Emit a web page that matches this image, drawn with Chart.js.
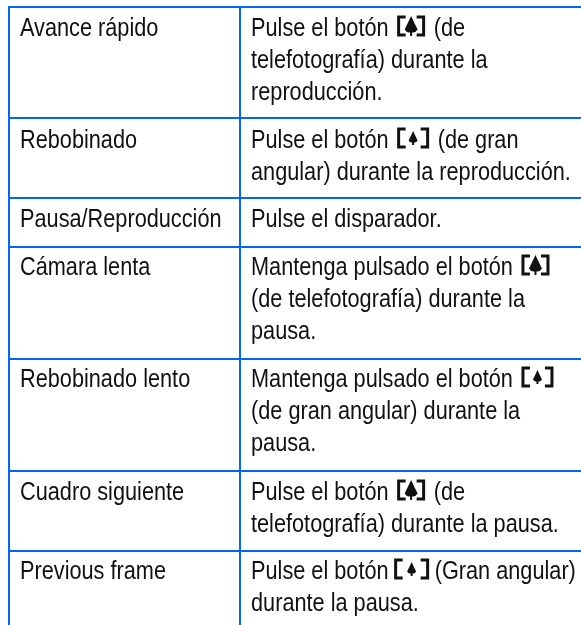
<!DOCTYPE html>
<html>
<head>
<meta charset="utf-8">
<script src="https://cdn.jsdelivr.net/npm/chart.js@4"></script>
<style>
  html, body { margin: 0; padding: 0; background: #fff; }
  #wrap { position: relative; width: 581px; height: 625px; }
</style>
</head>
<body>
<div id="wrap"><canvas id="tableChart"></canvas></div>
<script>
// rows of the table, {T} = tele button icon, {W} = wide button icon, {N} = wide icon set tighter
const rowNames = [
  "Avance rápido", "Rebobinado", "Pausa/Reproducción", "Cámara lenta",
  "Rebobinado lento", "Cuadro siguiente", "Previous frame"
];
const rowActions = [
  ["Pulse el botón {T} (de", "telefotografía) durante la", "reproducción."],
  ["Pulse el botón {W} (de gran", "angular) durante la reproducción."],
  ["Pulse el disparador."],
  ["Mantenga pulsado el botón {T}", "(de telefotografía) durante la", "pausa."],
  ["Mantenga pulsado el botón {W}", "(de gran angular) durante la", "pausa."],
  ["Pulse el botón {T} (de", "telefotografía) durante la pausa."],
  ["Pulse el botón {N} (Gran angular)", "durante la pausa."]
];
const rowEdges = [7, 118, 198, 247, 359, 471, 551];
const rowBaselines = [36, 148, 227, 275, 387, 500, 579];
const colEdges = [9, 240];
const textCols = [20, 251];
const tableRight = 581;
const tableBottom = 625;

const BLUE = "#0066ff";
const INK = "#111";
const FONT = '26px "Liberation Sans", Arial, sans-serif';
const SQUEEZE = 0.835; // reference type is a narrow cut
const LINE_STEP = 32;

function rule(x1, y1, x2, y2) {
  return {
    data: [{ x: x1, y: y1 }, { x: x2, y: y2 }],
    showLine: true,
    borderColor: BLUE,
    borderWidth: 2,
    pointRadius: 0
  };
}

const rules = [];
rowEdges.forEach(y => rules.push(rule(colEdges[0] - 1, y, tableRight, y)));
colEdges.forEach(x => rules.push(rule(x, rowEdges[0], x, tableBottom)));

function drawIcon(c, x, base, kind) {
  const wide = kind !== "{T}";
  const box = kind === "{W}" ? 37 : kind === "{N}" ? 34 : 33;
  const left = x + (kind === "{N}" ? 1 : 4), right = x + box - (kind === "{N}" ? 1 : 4);
  const top = base - 19, bot = base - 1;
  c.save();
  c.strokeStyle = INK;
  c.fillStyle = INK;
  c.lineWidth = 3;
  c.beginPath();
  c.moveTo(left + 7, top); c.lineTo(left, top); c.lineTo(left, bot); c.lineTo(left + 7, bot);
  c.moveTo(right - 7, top); c.lineTo(right, top); c.lineTo(right, bot); c.lineTo(right - 7, bot);
  c.stroke();
  const cx = (left + right) / 2;
  const h = wide ? 14 : 20, hw = wide ? 4.5 : 6.5;
  const t = wide ? base - 17 : base - 20;
  c.beginPath();
  c.moveTo(cx, t);
  c.quadraticCurveTo(cx + hw * 0.5, t + h * 0.35, cx + hw, t + h * 0.68);
  c.quadraticCurveTo(cx + hw * 0.7, t + h * 0.85, cx + 1, t + h * 0.82);
  c.lineTo(cx + 1, t + h);
  c.lineTo(cx - 1, t + h);
  c.lineTo(cx - 1, t + h * 0.82);
  c.quadraticCurveTo(cx - hw * 0.7, t + h * 0.85, cx - hw, t + h * 0.68);
  c.quadraticCurveTo(cx - hw * 0.5, t + h * 0.35, cx, t);
  c.fill();
  c.restore();
  return box;
}

function drawText(c, text, x, y) {
  c.save();
  c.translate(x, y);
  c.scale(SQUEEZE, 1);
  c.fillText(text, 0, 0);
  c.restore();
  return c.measureText(text).width * SQUEEZE;
}

function drawLine(c, text, x, y) {
  text.split(/(\{[TWN]\})/).forEach(part => {
    if (/^\{[TWN]\}$/.test(part)) {
      x += drawIcon(c, x, y, part);
    } else if (part) {
      x += drawText(c, part, x, y);
    }
  });
}

const tableText = {
  id: "tableText",
  afterDatasetsDraw(chart) {
    const c = chart.ctx, sx = chart.scales.x, sy = chart.scales.y;
    c.save();
    c.font = FONT;
    c.fillStyle = INK;
    c.textBaseline = "alphabetic";
    rowNames.forEach((name, i) => {
      drawText(c, name, sx.getPixelForValue(textCols[0]), sy.getPixelForValue(rowBaselines[i]));
      rowActions[i].forEach((line, k) => {
        drawLine(c, line, sx.getPixelForValue(textCols[1]), sy.getPixelForValue(rowBaselines[i] + k * LINE_STEP));
      });
    });
    c.restore();
  }
};

new Chart(document.getElementById("tableChart"), {
  type: "scatter",
  data: { datasets: rules },
  plugins: [tableText],
  options: {
    responsive: true,
    maintainAspectRatio: false,
    animation: false,
    layout: { padding: 0 },
    plugins: { legend: { display: false }, title: { display: false }, tooltip: { enabled: false } },
    scales: {
      x: { type: "linear", min: 0, max: tableRight, display: false },
      y: { type: "linear", min: 0, max: tableBottom, reverse: true, display: false }
    }
  }
});
</script>
</body>
</html>
